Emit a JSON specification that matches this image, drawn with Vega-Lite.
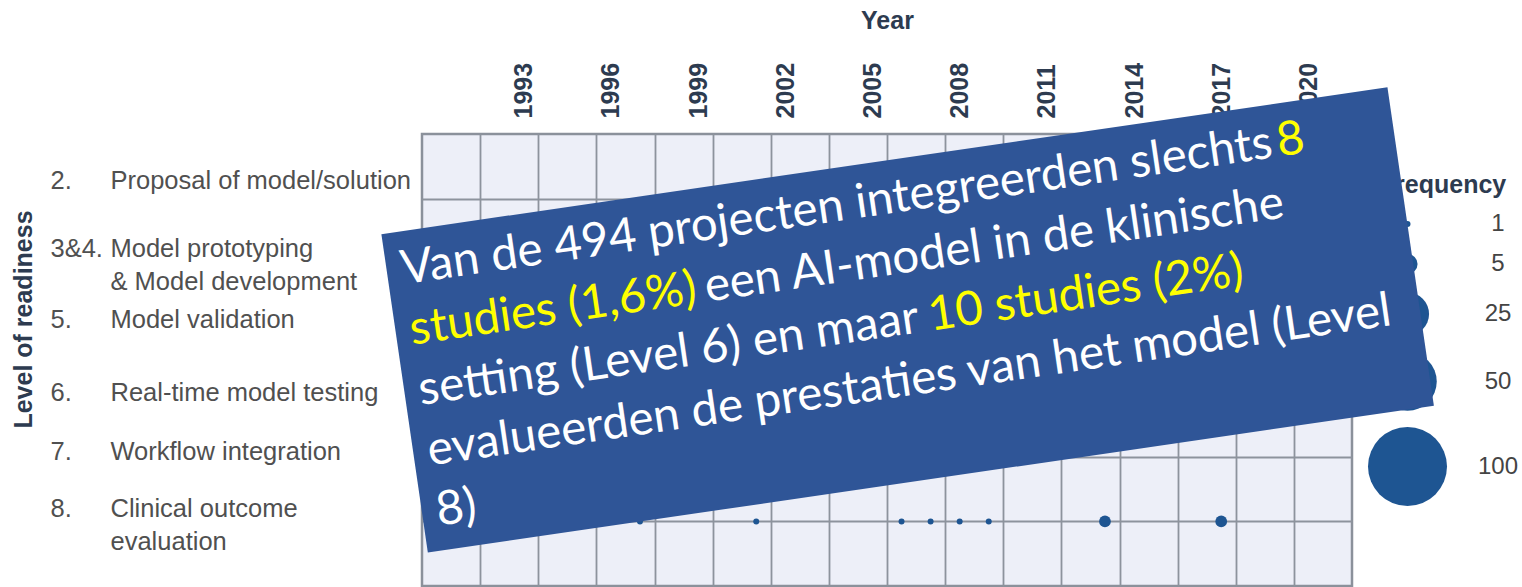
{
  "$schema": "https://vega.github.io/schema/vega-lite/v6.json",
  "background": "white",
  "padding": {"left": 9, "top": 6, "right": 0, "bottom": 0},
  "spacing": 0,
  "bounds": "flush",
  "resolve": {"scale": {"size": "independent"}, "legend": {"size": "independent"}},
  "vconcat": [
    {
      "width": 930,
      "height": 452,
      "view": {"fill": "#EDEFF8", "stroke": "#8B919B", "strokeWidth": 2.5},
      "data": {"values": [
        {"year": 1997, "level": "8", "n": 1},
        {"year": 2001, "level": "8", "n": 1},
        {"year": 2006, "level": "8", "n": 1},
        {"year": 2007, "level": "8", "n": 1},
        {"year": 2008, "level": "8", "n": 1},
        {"year": 2009, "level": "8", "n": 1},
        {"year": 2013, "level": "8", "n": 2},
        {"year": 2017, "level": "8", "n": 2}
      ]},
      "layer": [
        {
          "mark": {"type": "point", "opacity": 0},
          "encoding": {
            "x": {"field": "year", "type": "quantitative",
              "scale": {"domain": [1989.5, 2021.5], "nice": false, "zero": false},
              "axis": {"orient": "bottom", "values": [1991.5, 1993.5, 1995.5, 1997.5, 1999.5, 2001.5, 2003.5, 2005.5, 2007.5, 2009.5, 2011.5, 2013.5, 2015.5, 2017.5, 2019.5],
                "grid": true, "gridColor": "#8D939D", "gridWidth": 1.8, "gridOpacity": 1,
                "labels": false, "ticks": false, "domain": false, "title": null}},
            "y": {"field": "level", "type": "nominal",
              "scale": {"type": "point", "domain": ["2", "3&4", "5", "6", "7", "8"], "padding": 1},
              "axis": {"orient": "left", "grid": true, "gridColor": "#8D939D", "gridWidth": 1.8, "gridOpacity": 1,
                "ticks": false, "domain": false, "title": null,
                "labelExpr": "datum.value === '2' ? 'Proposal of model/solution' : datum.value === '3&4' ? ['Model prototyping', '& Model development'] : datum.value === '5' ? 'Model validation' : datum.value === '6' ? 'Real-time model testing' : datum.value === '7' ? 'Workflow integration' : ['Clinical outcome', 'evaluation']",
                "labelOffset": {"condition": [
                  {"test": "datum.value === '2'", "value": -18},
                  {"test": "datum.value === '3&4'", "value": -15},
                  {"test": "datum.value === '8'", "value": -13},
                  {"test": "datum.value === '5'", "value": -8},
                  {"test": "datum.value === '7'", "value": -5}], "value": 0},
                "labelAlign": "left", "labelBaseline": "middle", "labelPadding": 312,
                "labelFont": "Liberation Sans", "labelFontSize": 25.5, "labelColor": "#505050",
                "labelLineHeight": 33, "labelLimit": 0}}
          }
        },
        {
          "mark": {"type": "circle", "opacity": 1, "color": "#1E5592"},
          "encoding": {
            "x": {"field": "year", "type": "quantitative",
              "axis": {"orient": "top", "values": [1993, 1996, 1999, 2002, 2005, 2008, 2011, 2014, 2017, 2020], "format": "d",
                "labelAngle": -90, "labelAlign": "left", "labelBaseline": "middle", "labelPadding": 16,
                "labelFont": "Liberation Sans", "labelFontSize": 25, "labelFontWeight": "bold", "labelColor": "#2D3B50",
                "labelOverlap": false, "grid": false, "ticks": false, "domain": false,
                "title": "Year", "titleFont": "Liberation Sans", "titleFontSize": 25, "titleFontWeight": "bold", "titleColor": "#2D3B50",
                "titleX": 465, "titleY": -106, "titleBaseline": "alphabetic", "titleAlign": "center"}},
            "y": {"field": "level", "type": "nominal",
              "axis": {"orient": "left", "grid": false, "ticks": false, "domain": false,
                "labelExpr": "datum.value === '3&4' ? ['3&4.', ''] : datum.value === '8' ? ['8.', ''] : datum.value + '.'",
                "labelOffset": {"condition": [
                  {"test": "datum.value === '2'", "value": -18},
                  {"test": "datum.value === '3&4'", "value": -15},
                  {"test": "datum.value === '8'", "value": -13},
                  {"test": "datum.value === '5'", "value": -8},
                  {"test": "datum.value === '7'", "value": -5}], "value": 0},
                "labelAlign": "left", "labelBaseline": "middle", "labelPadding": 372,
                "labelFont": "Liberation Sans", "labelFontSize": 25.5, "labelColor": "#505050", "labelLineHeight": 33, "labelLimit": 0,
                "title": "Level of readiness", "titleFont": "Liberation Sans", "titleFontSize": 25, "titleFontWeight": "bold", "titleColor": "#2D3B50",
                "titleAngle": 270, "titleX": -391, "titleY": 185, "titleBaseline": "alphabetic", "titleAlign": "center"}},
            "size": {"field": "n", "type": "quantitative",
              "scale": {"type": "pow", "exponent": 0.85, "domain": [1, 100], "range": [36, 6241], "zero": false},
              "legend": {"values": [1, 5, 25, 50, 100], "title": "Frequency", "orient": "none", "legendX": 946, "legendY": 39,
                "padding": 0, "direction": "vertical",
                "titleFont": "Liberation Sans", "titleFontSize": 25, "titleFontWeight": "bold", "titleColor": "#2D3B50",
                "titleAnchor": "middle", "titlePadding": 14,
                "labelFont": "Liberation Sans", "labelFontSize": 24, "labelColor": "#444444", "labelAlign": "center", "labelOffset": 51,
                "rowPadding": 16, "symbolStrokeWidth": 0, "symbolFillColor": "#1E5592", "symbolOpacity": 1}}
          }
        }
      ],
      "resolve": {"axis": {"x": "independent", "y": "independent"}}
    },
    {
      "width": 930,
      "height": 452,
      "view": {"stroke": null, "fill": null},
      "data": {"values": [
        {"seg": "box", "t": ""},
        {"seg": "l1w", "t": "Van de 494 projecten integreerden slechts"},
        {"seg": "l1y", "t": "8"},
        {"seg": "l2y", "t": "studies (1,6%)"},
        {"seg": "l2w", "t": "een AI-model in de klinische"},
        {"seg": "l3w", "t": "setting (Level 6) en maar"},
        {"seg": "l3y", "t": "10 studies (2%)"},
        {"seg": "l4w", "t": "evalueerden de prestaties van het model (Level"},
        {"seg": "l5w", "t": "8)"}
      ]},
      "encoding": {
        "x": {"datum": 2006.21, "type": "quantitative", "scale": {"domain": [1989.5, 2021.5], "nice": false, "zero": false}, "axis": null},
        "y": {"datum": -4.121, "type": "quantitative", "scale": {"domain": [0, 7], "reverse": true, "nice": false, "zero": false}, "axis": null}
      },
      "layer": [
        {"transform": [{"filter": {"field": "seg", "equal": "box"}}],
         "mark": {"type": "point", "shape": "M-1,-0.3164L1,-0.3164L1,0.3164L-1,0.3164Z", "size": 1033678, "angle": -8.3, "filled": true, "fill": "#2F5597", "opacity": 1, "strokeWidth": 0}},
        {"transform": [{"filter": {"field": "seg", "equal": "l1w"}}],
         "mark": {"type": "text", "align": "left", "baseline": "alphabetic", "angle": -8.3, "dx": -494, "dy": -108, "font": "Lato", "fontSize": 47.5, "color": "#FFFFFF"},
         "encoding": {"text": {"field": "t"}}},
        {"transform": [{"filter": {"field": "seg", "equal": "l1y"}}],
         "mark": {"type": "text", "align": "left", "baseline": "alphabetic", "angle": -8.3, "dx": 391, "dy": -108, "font": "Lato", "fontSize": 47.5, "color": "#FFFF00"},
         "encoding": {"text": {"field": "t"}}},
        {"transform": [{"filter": {"field": "seg", "equal": "l2y"}}],
         "mark": {"type": "text", "align": "left", "baseline": "alphabetic", "angle": -8.3, "dx": -494, "dy": -47, "font": "Lato", "fontSize": 47.5, "color": "#FFFF00"},
         "encoding": {"text": {"field": "t"}}},
        {"transform": [{"filter": {"field": "seg", "equal": "l2w"}}],
         "mark": {"type": "text", "align": "left", "baseline": "alphabetic", "angle": -8.3, "dx": -196, "dy": -47, "font": "Lato", "fontSize": 47.5, "color": "#FFFFFF"},
         "encoding": {"text": {"field": "t"}}},
        {"transform": [{"filter": {"field": "seg", "equal": "l3w"}}],
         "mark": {"type": "text", "align": "left", "baseline": "alphabetic", "angle": -8.3, "dx": -494, "dy": 14, "font": "Lato", "fontSize": 47.5, "color": "#FFFFFF"},
         "encoding": {"text": {"field": "t"}}},
        {"transform": [{"filter": {"field": "seg", "equal": "l3y"}}],
         "mark": {"type": "text", "align": "left", "baseline": "alphabetic", "angle": -8.3, "dx": 21, "dy": 14, "font": "Lato", "fontSize": 47.5, "color": "#FFFF00"},
         "encoding": {"text": {"field": "t"}}},
        {"transform": [{"filter": {"field": "seg", "equal": "l4w"}}],
         "mark": {"type": "text", "align": "left", "baseline": "alphabetic", "angle": -8.3, "dx": -494, "dy": 75, "font": "Lato", "fontSize": 47.5, "color": "#FFFFFF"},
         "encoding": {"text": {"field": "t"}}},
        {"transform": [{"filter": {"field": "seg", "equal": "l5w"}}],
         "mark": {"type": "text", "align": "left", "baseline": "alphabetic", "angle": -8.3, "dx": -494, "dy": 136, "font": "Lato", "fontSize": 47.5, "color": "#FFFFFF"},
         "encoding": {"text": {"field": "t"}}}
      ]
    }
  ]
}
